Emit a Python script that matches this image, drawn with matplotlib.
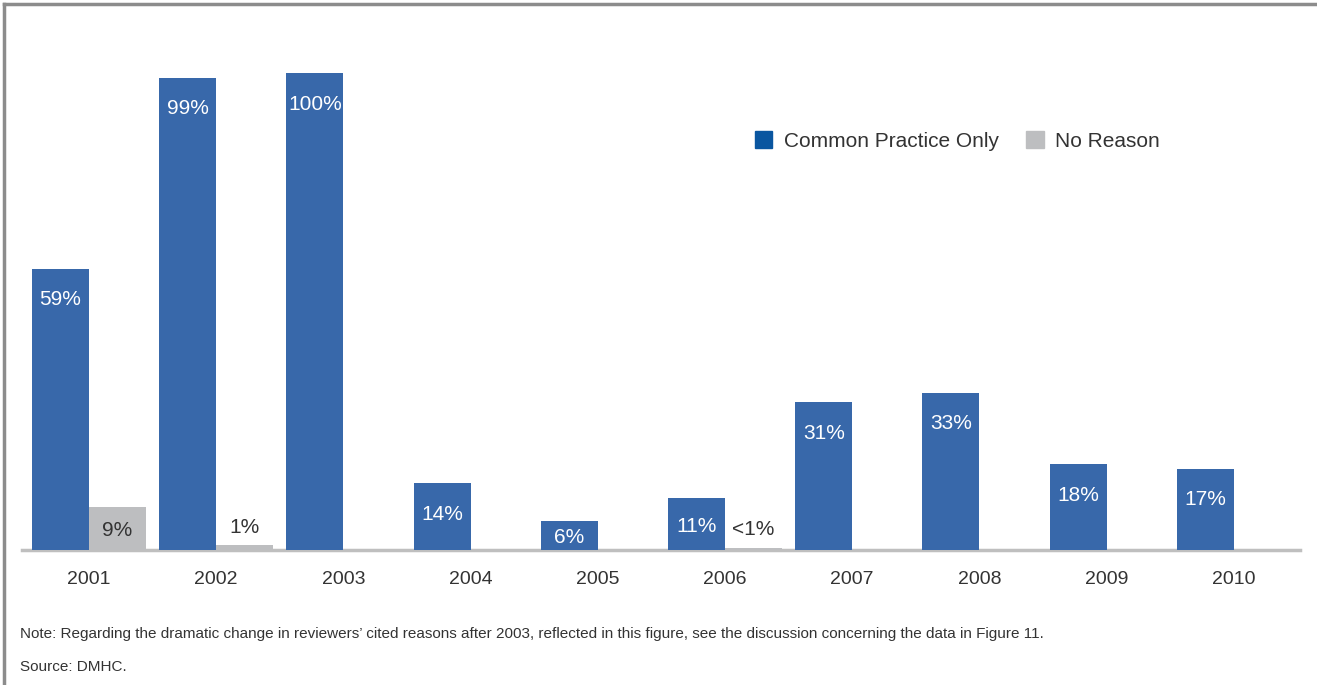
import matplotlib.pyplot as plt
from matplotlib.patches import Patch
import numpy as np

# data
years = ['2001', '2002', '2003', '2004', '2005', '2006', '2007', '2008', '2009', '2010']
common_practice = [59, 99, 100, 14, 6, 11, 31, 33, 18, 17]
no_reason = [9, 1, 0, 0, 0, 0.5, 0, 0, 0, 0]
no_reason_labels = ['9%', '1%', '', '', '', '<1%', '', '', '', '']

blue = '#3868aa'
gray = '#bdbec0'
text_col = '#333333'
font = ['Liberation Sans', 'DejaVu Sans']

fig = plt.figure(figsize=(13.17, 6.85), dpi=100)
ax = fig.add_axes([22 / 1317, 135 / 685, 1278 / 1317, 477 / 685])

x = np.arange(len(years))
w = 0.448
ax.bar(x - w / 2, common_practice, w, color=blue, zorder=2)
ax.bar(x + w / 2, no_reason, w, color=gray, zorder=2)

# value labels
for i, v in enumerate(common_practice):
    ax.text(i - w / 2, max(v - 6.5, v * 0.45), f'{v}%', ha='center', va='center',
            color='white', fontsize=15, family=font, zorder=3)
for i, v in enumerate(no_reason):
    lab = no_reason_labels[i]
    if not lab:
        continue
    y = max(v - 6.5, v * 0.45) if v > 5 else v + 3.7
    ax.text(i + w / 2, y, lab, ha='center', va='center',
            color=text_col, fontsize=15, family=font, zorder=3)

ax.set_xlim(-0.527, 9.52)
ax.set_ylim(0, 100)
ax.set_xticks(x)
ax.set_xticklabels(years, family=font, fontsize=14, color=text_col)
ax.tick_params(axis='x', length=0, pad=15)
ax.set_yticks([])
for s in ['top', 'right', 'left']:
    ax.spines[s].set_visible(False)
ax.spines['bottom'].set_color('#bfbfbf')
ax.spines['bottom'].set_linewidth(2.5)
ax.spines['bottom'].set_zorder(1)

# legend
handles = [Patch(color='#0a56a0'), Patch(color=gray)]
fig.legend(handles, ['Common Practice Only', 'No Reason'], loc='center left',
           bbox_to_anchor=(736 / 1317, 1 - 141 / 685), frameon=False, ncol=2,
           handlelength=0.85, handleheight=0.85, handletextpad=0.55, columnspacing=1.3,
           prop={'family': font, 'size': 15}, labelcolor=text_col)

# notes
fig.text(20 / 1317, 1 - 634 / 685,
         'Note: Regarding the dramatic change in reviewers\u2019 cited reasons after 2003, '
         'reflected in this figure, see the discussion concerning the data in Figure 11.',
         family=font, fontsize=11, color=text_col, va='center')
fig.text(20 / 1317, 1 - 667 / 685, 'Source: DMHC.',
         family=font, fontsize=11, color=text_col, va='center')

# frame lines at top and left
fig.add_artist(plt.Line2D([4 / 1317, 1], [1 - 4 / 685, 1 - 4 / 685], color='#8c8c8c', lw=2.5))
fig.add_artist(plt.Line2D([4 / 1317, 4 / 1317], [0, 1 - 4 / 685], color='#8c8c8c', lw=2.5))

fig.savefig('out.png', dpi=100)
